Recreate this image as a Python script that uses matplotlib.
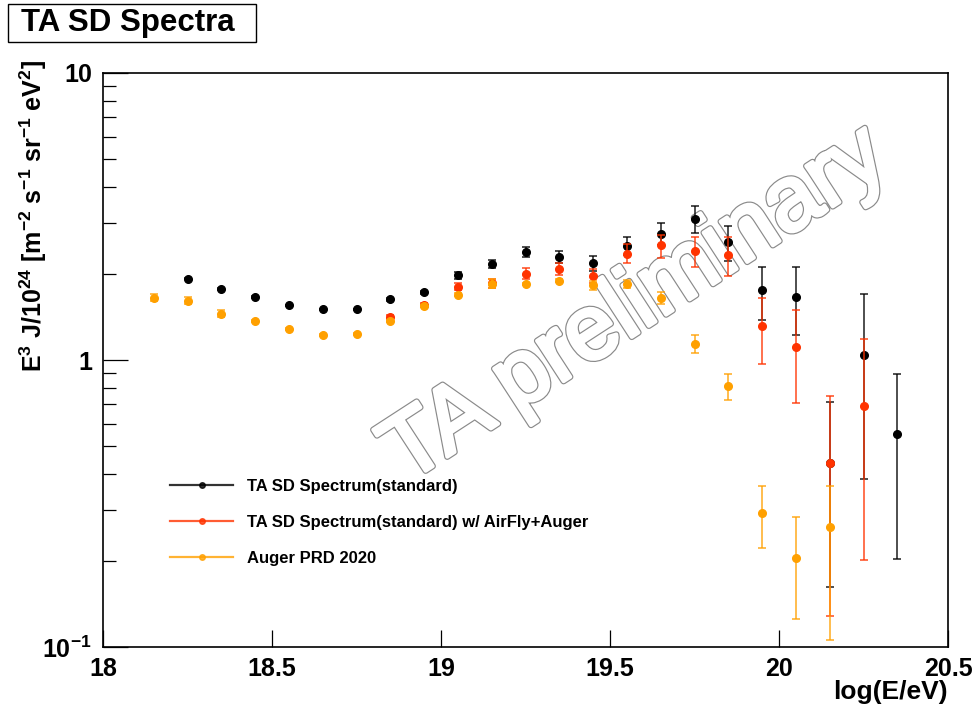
#!/usr/bin/python3
#
# TA SD spectra compared with Auger PRD 2020
# - E^3 J vs log(E/eV), log y axis
# - ROOT-like look, "TA preliminary" watermark

##################################################
#
# requirements
#
##################################################

import matplotlib
matplotlib.use("Agg")
import matplotlib.pyplot as plt
import matplotlib.patheffects as pe
from matplotlib.lines import Line2D
from matplotlib.patches import Rectangle
from matplotlib.ticker import FixedLocator, FixedFormatter, NullFormatter

##################################################
#
# data
#
##################################################

# TA SD spectrum (standard)
ta_x = [18.25, 18.35, 18.45, 18.55, 18.65, 18.75, 18.85, 18.95, 19.05, 19.15, 19.25,
        19.35, 19.45, 19.55, 19.65, 19.75, 19.85, 19.95, 20.05, 20.15, 20.25, 20.35]
ta_y = [1.92, 1.77, 1.66, 1.55, 1.50, 1.50, 1.63, 1.72, 1.97, 2.16, 2.38,
        2.28, 2.17, 2.50, 2.75, 3.09, 2.58, 1.75, 1.66, 0.438, 1.04, 0.552]
ta_lo = [0.01, 0.01, 0.01, 0.01, 0.01, 0.01, 0.02, 0.02, 0.06, 0.07, 0.10,
         0.11, 0.12, 0.17, 0.23, 0.33, 0.37, 0.37, 0.44, 0.276, 0.655, 0.349]
ta_hi = [0.01, 0.01, 0.01, 0.01, 0.01, 0.01, 0.02, 0.02, 0.06, 0.07, 0.10,
         0.11, 0.14, 0.18, 0.24, 0.35, 0.35, 0.36, 0.45, 0.276, 0.66, 0.342]

# TA SD spectrum (standard) w/ AirFly+Auger
taaf_x = [18.85, 18.95, 19.05, 19.15, 19.25, 19.35, 19.45, 19.55, 19.65, 19.75,
          19.85, 19.95, 20.05, 20.15, 20.25]
taaf_y = [1.41, 1.56, 1.80, 1.85, 2.00, 2.07, 1.96, 2.35, 2.51, 2.40,
          2.32, 1.31, 1.11, 0.438, 0.691]
taaf_lo = [0.02, 0.02, 0.05, 0.07, 0.08, 0.10, 0.11, 0.17, 0.24, 0.29,
           0.36, 0.34, 0.40, 0.31, 0.49]
taaf_hi = [0.02, 0.02, 0.05, 0.07, 0.09, 0.11, 0.12, 0.18, 0.22, 0.29,
           0.36, 0.33, 0.38, 0.31, 0.49]

# Auger PRD 2020
aug_x = [18.15, 18.25, 18.35, 18.45, 18.55, 18.65, 18.75, 18.85, 18.95, 19.05, 19.15,
         19.25, 19.35, 19.45, 19.55, 19.65, 19.75, 19.85, 19.95, 20.05, 20.15]
aug_y = [1.65, 1.61, 1.45, 1.37, 1.28, 1.22, 1.235, 1.37, 1.54, 1.69, 1.84,
         1.84, 1.89, 1.82, 1.84, 1.65, 1.14, 0.812, 0.293, 0.204, 0.262]
aug_lo = [0.04, 0.04, 0.04, 0.01, 0.01, 0.01, 0.01, 0.01, 0.01, 0.02, 0.06,
          0.02, 0.02, 0.06, 0.06, 0.08, 0.08, 0.086, 0.072, 0.079, 0.156]
aug_hi = [0.05, 0.05, 0.04, 0.01, 0.01, 0.01, 0.01, 0.01, 0.01, 0.02, 0.08,
          0.02, 0.02, 0.06, 0.06, 0.07, 0.08, 0.082, 0.071, 0.080, 0.102]

labels = ["TA SD Spectrum(standard)",
          "TA SD Spectrum(standard) w/ AirFly+Auger",
          "Auger PRD 2020"]

x_ticks = [18, 18.5, 19, 19.5, 20, 20.5]
x_ticklabels = ["18", "18.5", "19", "19.5", "20", "20.5"]
y_ticks = [0.1, 1, 10]
y_ticklabels = [r"$10^{-1}$", "1", "10"]
y_minor = [0.2, 0.3, 0.4, 0.5, 0.6, 0.7, 0.8, 0.9,
           2, 3, 4, 5, 6, 7, 8, 9]

##################################################
#
# plot_spectra
#
##################################################

def plot_spectra(outfile):

    plt.rcParams['font.family'] = ['Liberation Sans', 'DejaVu Sans']
    plt.rcParams['font.weight'] = 'bold'
    plt.rcParams['mathtext.fontset'] = 'custom'
    plt.rcParams['mathtext.rm'] = 'Liberation Sans:bold'
    plt.rcParams['mathtext.bf'] = 'Liberation Sans:bold'
    plt.rcParams['mathtext.default'] = 'rm'

    W, H = 975, 711
    fig = plt.figure(figsize=(W / 100, H / 100), dpi=100)
    ax = fig.add_axes([103 / W, 1 - 647 / H, 845 / W, 574 / H])

    # series: black, red, orange (orange on top)
    series = [
        (ta_x, ta_y, ta_lo, ta_hi, '#000000', '#000000'),
        (taaf_x, taaf_y, taaf_lo, taaf_hi, '#ff3300', '#ff3300'),
        (aug_x, aug_y, aug_lo, aug_hi, '#ffa000', '#ffa000'),
    ]
    handles = []
    for i, (x, y, lo, hi, mcol, ecol) in enumerate(series):
        eb = ax.errorbar(x, y, yerr=[lo, hi], fmt='o', markersize=5.5,
                         color=mcol, markeredgecolor=mcol,
                         ecolor=ecol, elinewidth=1.3, capsize=3, capthick=1.3,
                         zorder=3 + i)
        for art in list(eb[1]) + list(eb[2]):
            art.set_alpha(0.75)
        handles.append(Line2D([], [], color=ecol, alpha=0.8, lw=1.6,
                              marker='o', markersize=4,
                              markerfacecolor=mcol, markeredgecolor=mcol))

    # axes limits and ticks
    ax.set_xlim(18, 20.5)
    ax.set_yscale('log')
    ax.set_ylim(0.1, 10)
    ax.xaxis.set_major_locator(FixedLocator(x_ticks))
    ax.xaxis.set_major_formatter(FixedFormatter(x_ticklabels))
    ax.xaxis.set_minor_locator(FixedLocator([]))
    ax.yaxis.set_major_locator(FixedLocator(y_ticks))
    ax.yaxis.set_major_formatter(FixedFormatter(y_ticklabels))
    ax.yaxis.set_minor_locator(FixedLocator(y_minor))
    ax.yaxis.set_minor_formatter(NullFormatter())

    ax.tick_params(which='both', direction='in', top=False, right=False,
                   width=0.9, labelsize=18)
    ax.tick_params(axis='x', which='major', length=12, pad=7)
    ax.tick_params(axis='y', which='major', length=18, pad=8)
    ax.tick_params(axis='y', which='minor', length=9)
    for s in ax.spines.values():
        s.set_linewidth(1.2)

    # axis titles
    ax.set_ylabel(r"E$^{3}$ J/10$^{24}$ [m$^{-2}$ s$^{-1}$ sr$^{-1}$ eV$^{2}$]",
                  fontsize=18, fontweight='bold')
    ax.yaxis.set_label_coords((33 - 103) / 845, (647 - 216) / 574)
    ax.yaxis.label.set_va('center')
    ax.set_xlabel("log(E/eV)", fontsize=19, fontweight='bold')
    ax.xaxis.set_label_coords(1.0, -(692 - 647) / 574)
    ax.xaxis.label.set_ha('right')
    ax.xaxis.label.set_va('center')

    # legend (no frame)
    ax.legend(handles, labels, loc='upper left',
              bbox_to_anchor=((170 - 103) / 845, (647 - 479) / 574),
              frameon=False, fontsize=12, handlelength=3.8,
              handletextpad=0.8, labelspacing=1.25,
              borderpad=0, borderaxespad=0)

    # watermark
    ax.text(0.630, 0.594, "TA preliminary", transform=ax.transAxes,
            fontsize=66, fontweight='normal', color='white',
            rotation=33, rotation_mode='anchor', ha='center', va='center',
            zorder=1,
            path_effects=[pe.Stroke(linewidth=4.5, foreground='#8a8a8a'),
                          pe.Stroke(linewidth=2.8, foreground='white'),
                          pe.Normal()])

    # title box
    fig.patches.append(Rectangle((8 / W, 1 - 42 / H), 248 / W, 38 / H,
                                 transform=fig.transFigure, fill=False,
                                 edgecolor='black', linewidth=1.0))
    fig.text(128 / W, 1 - 23 / H, "TA SD Spectra", ha='center', va='center',
             fontsize=22.5, fontweight='bold')

    print(f"Saving plot {outfile}")
    fig.savefig(outfile, dpi=100)
    plt.close(fig)


##################################################
#
# main
#
##################################################

if __name__ == "__main__":
    plot_spectra("out.png")
